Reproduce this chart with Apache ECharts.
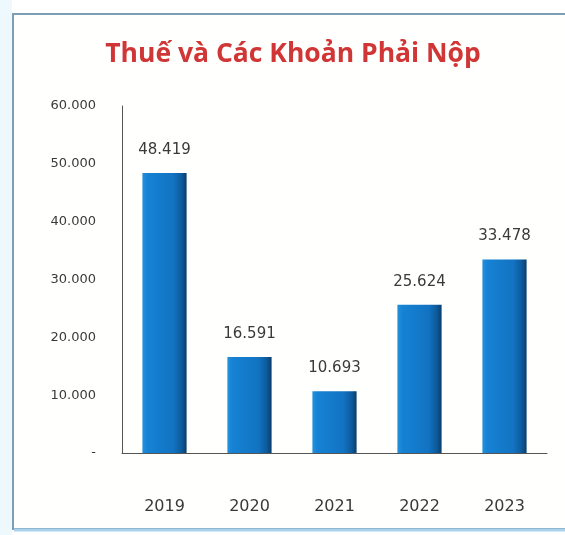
<!DOCTYPE html>
<html><head><meta charset="utf-8">
<script src="https://cdn.jsdelivr.net/npm/echarts@6/dist/echarts.min.js"></script>
<style>html,body{margin:0;padding:0;background:#fff}#c{width:565px;height:535px}</style>
</head><body><div id="c"></div>
<script>
const title = "Thuế và Các Khoản Phải Nộp";
const categories = ["2019", "2020", "2021", "2022", "2023"];
const values = [48419, 16591, 10693, 25624, 33478];
const yTicks = [0, 10000, 20000, 30000, 40000, 50000, 60000];

function fmt(v){
  if (v === 0) return "-";
  return String(v).replace(/\B(?=(\d{3})+(?!\d))/g, ".");
}
const chart = echarts.init(document.getElementById('c'));
const barGrad = new echarts.graphic.LinearGradient(0,0,1,0,[
  {offset:0,color:'#2393de'},
  {offset:0.12,color:'#1682d4'},
  {offset:0.7,color:'#1273c2'},
  {offset:0.88,color:'#0d5a9b'},
  {offset:1,color:'#093a66'}
]);
chart.setOption({
  animation:false,
  backgroundColor:'#ffffff',
  graphic:[
    {type:'rect',left:0,top:0,shape:{x:0,y:0,width:12,height:535},style:{fill:'#eef9fd'},z:-2},
    {type:'rect',shape:{x:13,y:14,width:560,height:515},style:{fill:'#fffffd',stroke:'#7f9db3',lineWidth:2},z:-1},
    {type:'line',shape:{x1:14,y1:530,x2:565,y2:530},style:{stroke:'#a9d2ee',lineWidth:3},z:-1}
  ],
  title:{text:title,left:288,top:36,textAlign:'center',
    textStyle:{color:'#d03636',fontSize:26.5,fontWeight:'bold',fontFamily:'Open Sans'}},
  grid:{left:122,right:18,top:106,bottom:82,containLabel:false},
  xAxis:{type:'category',data:categories,
    axisLine:{show:true,lineStyle:{color:'#555',width:1}},
    axisTick:{show:false},
    axisLabel:{color:'#3a3a3a',fontSize:16,fontFamily:'DejaVu Sans',margin:46}},
  yAxis:{type:'value',min:0,max:60000,interval:10000,
    axisLine:{show:true,lineStyle:{color:'#555',width:1}},
    axisTick:{show:false},splitLine:{show:false},
    axisLabel:{color:'#3a3a3a',fontSize:13,fontFamily:'DejaVu Sans',margin:26,formatter:fmt}},
  series:[{type:'bar',data:values,barWidth:'52%',
    itemStyle:{color:barGrad,borderColor:'rgba(0,0,0,0)'},
    label:{show:true,position:'top',distance:15,color:'#3a3a3a',fontSize:15,fontFamily:'DejaVu Sans',
      formatter:p=>fmt(p.value)}}]
});
</script></body></html>
